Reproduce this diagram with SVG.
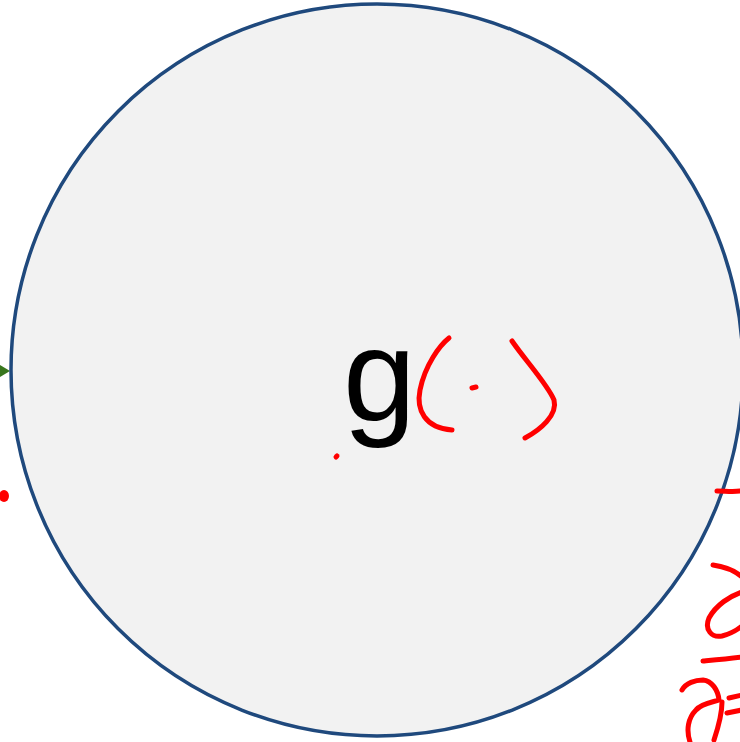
<svg xmlns="http://www.w3.org/2000/svg" width="740" height="742" viewBox="0 0 740 742">
<style>
.ink{fill:none;stroke:#ff0000;stroke-width:5;stroke-linecap:round;stroke-linejoin:round}
.lbl{font-family:"Liberation Sans",Arial,sans-serif;font-size:131px;fill:#000}
</style>
<rect width="740" height="742" fill="#ffffff"/>
<g id="connectors">
<polygon points="0,365 10,371 0,377" fill="#38761d"/>
</g>
<g id="node-g">
<circle cx="377" cy="370" r="366" fill="#f2f2f2" stroke="#1f497d" stroke-width="3.5"/>
<text class="lbl" x="343" y="421">g</text>
</g>
<g id="annotations">
<path class="ink" d="M449,338 C440,345 425,365 420,390 C416,410 425,428 452,430"/>
<path class="ink" d="M472,388 L476,387"/>
<path class="ink" d="M512,341 C525,360 548,385 554,400 C558,415 540,430 525,438"/>
<path class="ink" d="M336,457 L337,456"/>
<ellipse cx="4" cy="496" rx="5" ry="6" fill="#ff0000"/>
<path class="ink" d="M717,491 C725,491 733,492 740,491"/>
<path class="ink" d="M713,565 C720,566 733,569 742,577"/>
<path class="ink" d="M742,592 C730,596 716,605 709,618 C704,630 712,638 722,636 C730,634 737,630 742,626"/>
<path class="ink" d="M703,661 C715,660 728,659 742,657"/>
<path class="ink" d="M682,690 C686,683 695,680 703,680 C712,681 718,690 719,700 C714,702 702,703 696,710 C688,718 686,730 690,742"/>
<path class="ink" d="M722,702 C722,715 718,728 714,740"/>
<path class="ink" d="M729,698 L742,695"/>
<path class="ink" d="M727,713 L742,710"/>
</g>
</svg>
